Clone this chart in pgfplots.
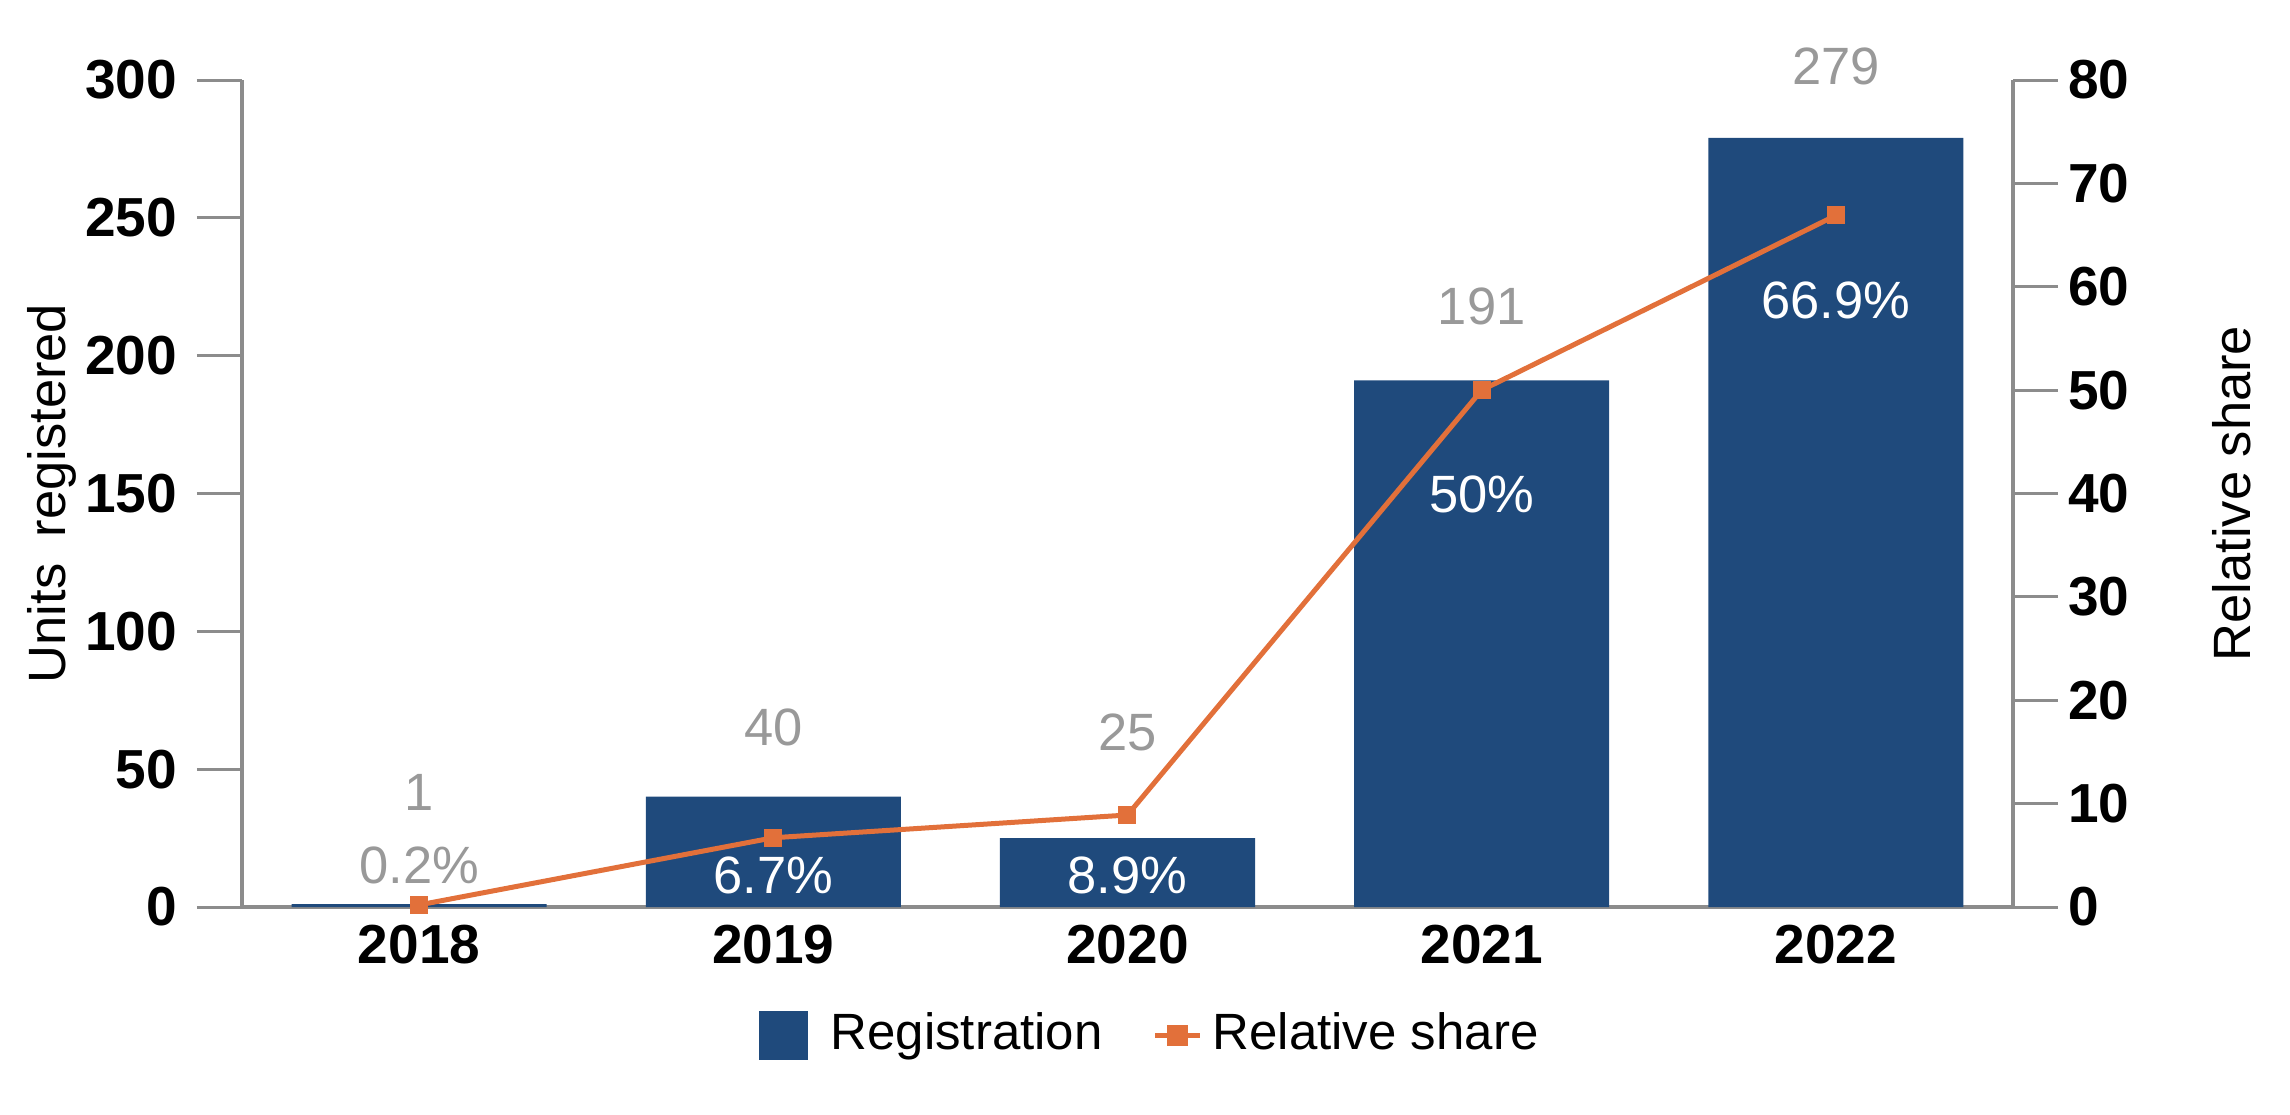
\documentclass[border=0pt]{standalone}
\usepackage{fontspec}
\setmainfont{Liberation Sans}
\usepackage{pgfplots}
\pgfplotsset{compat=1.18}
\definecolor{barblue}{RGB}{31,74,124}
\definecolor{lineorange}{RGB}{226,112,58}
\definecolor{lblgray}{RGB}{153,153,153}
\definecolor{axgray}{RGB}{140,140,140}
\begin{document}
\begin{tikzpicture}
\path[use as bounding box] (-48.4pt,-41.4pt) rectangle (354.2pt+55.4pt,165.4pt+16pt);
\begin{axis}[
  at={(0,0)}, anchor=south west,
  scale only axis, width=354.2pt, height=165.4pt,
  xmin=-0.5, xmax=4.5, ymin=0, ymax=300,
  axis y line*=left, axis x line*=bottom,
  axis line style={draw=axgray, line width=0.7pt},
  xtick={0,1,2,3,4}, xticklabels={2018,2019,2020,2021,2022},
  xtick style={draw=none},
  ytick={0,50,...,300},
  ytick style={draw=axgray, line width=0.6pt},
  tick align=outside, major tick length=9pt,
  /pgf/number format/assume math mode=true,
  ticklabel style={font=\fontsize{11}{13}\selectfont\bfseries, text=black},
  yticklabel style={xshift=-0.5pt},
  xticklabel style={yshift=9pt},
  ylabel={Units\enspace registered},
  ylabel style={at={(rel axis cs:0,0.5)}, anchor=center, yshift=38pt, font=\fontsize{10.5}{12}\selectfont},
  clip=false,
  legend columns=2,
  legend style={at={(0.515,-0.155)}, anchor=center, draw=none, fill=none,
     font=\fontsize{10.2}{12}\selectfont,
     /tikz/every even column/.append style={column sep=8pt}},
]
\addplot[ybar, bar width=0.72, fill=barblue, draw=none, forget plot]
  coordinates {(0,1) (1,40) (2,25) (3,191) (4,279)};
\addlegendimage{legend image code/.code={\fill[barblue] (0pt,-4.7pt) rectangle (9.4pt,4.7pt); \path[draw=none,fill=none] (0pt,0pt) rectangle (12pt,0.1pt);}}
\addlegendentry{Registration}
\addlegendimage{legend image code/.code={\draw[lineorange, line width=1pt] (0pt,0pt) -- (9pt,0pt); \fill[lineorange] (2.6pt,-1.9pt) rectangle (6.4pt,1.9pt);}}
\addlegendentry{Relative share}
\addplot[draw=none, mark=none, forget plot, nodes near coords, point meta=explicit symbolic,
  nodes near coords style={anchor=center, text=lblgray, font=\fontsize{10.5}{12}\selectfont}]
  coordinates {(0,41.7) [1] (1,65.3) [40] (2,63.5) [25] (3,218) [191] (4,305) [279]};
\end{axis}
\begin{axis}[
  at={(0,0)}, anchor=south west,
  scale only axis, width=354.2pt, height=165.4pt,
  xmin=-0.5, xmax=4.5, ymin=0, ymax=80,
  axis y line*=right, axis x line=none,
  axis line style={draw=axgray, line width=0.7pt},
  ytick={0,10,...,80},
  ytick style={draw=axgray, line width=0.6pt},
  tick align=outside, major tick length=9pt,
  /pgf/number format/assume math mode=true,
  ticklabel style={font=\fontsize{11}{13}\selectfont\bfseries, text=black},
  yticklabel style={xshift=-1.5pt},
  ylabel={Relative share},
  ylabel style={at={(rel axis cs:1,0.5)}, anchor=center, yshift=-43.8pt, font=\fontsize{10.5}{12}\selectfont},
  clip=false,
]
\addplot[lineorange, line width=1pt, mark=square*, mark size=1.3pt, mark options={solid, fill=lineorange, draw=lineorange}]
  coordinates {(0,0.2) (1,6.7) (2,8.9) (3,50) (4,66.9)};
\addplot[draw=none, mark=none, nodes near coords, point meta=explicit symbolic,
  nodes near coords style={anchor=center, text=lblgray, font=\fontsize{10.5}{12}\selectfont}]
  coordinates {(0,4.0) [0.2\%]};
\addplot[draw=none, mark=none, nodes near coords, point meta=explicit symbolic,
  nodes near coords style={anchor=center, text=white, font=\fontsize{10.5}{12}\selectfont}]
  coordinates {(1,3.1) [6.7\%] (2,3.1) [8.9\%] (3,39.9) [50\%] (4,58.7) [66.9\%]};
\end{axis}
\end{tikzpicture}
\end{document}
